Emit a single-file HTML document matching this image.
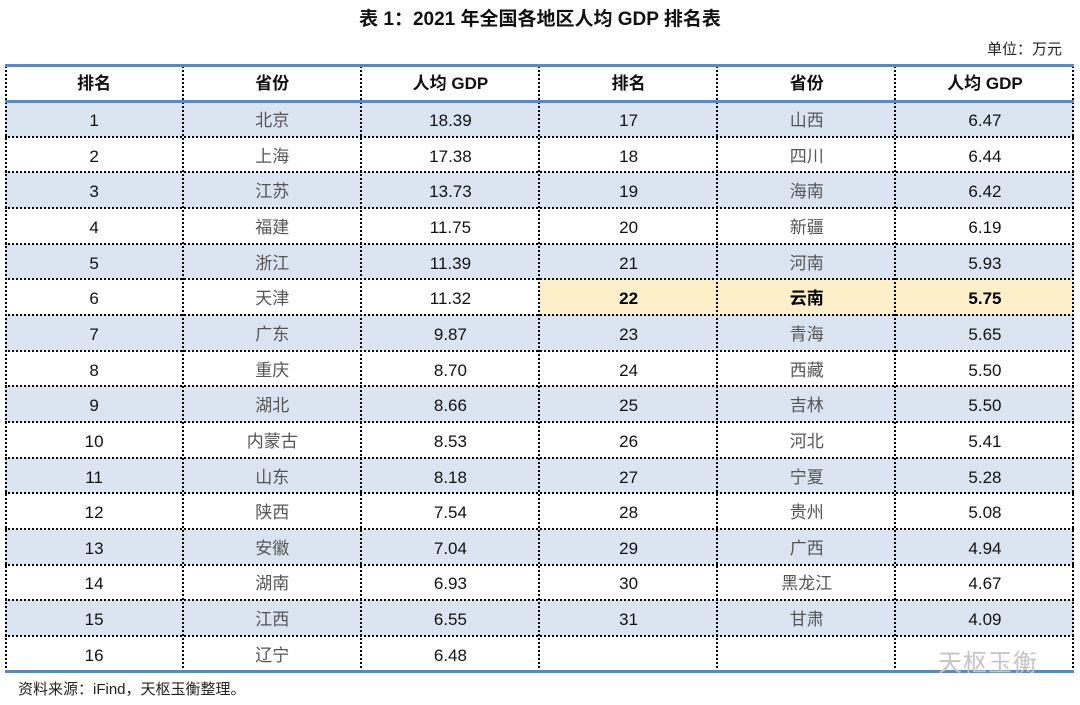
<!DOCTYPE html>
<html><head><meta charset="utf-8"><style>
body{margin:0;width:1080px;height:705px;background:#fff;position:relative;font-family:"Liberation Sans","Noto Sans CJK SC",sans-serif;overflow:hidden}
.title{position:absolute;top:4px;left:0;width:1080px;text-align:center;font-size:19px;font-weight:bold;color:#111}
.unit{position:absolute;top:38px;right:18px;font-size:15px;color:#222}
.r{position:absolute;left:5px;width:1069px;height:35.65px;display:flex}
.r div{width:178.2px;text-align:center;line-height:39px;font-size:17px;color:#111;height:35.65px;overflow:hidden}
.a{background:#dbe5f1}
.p{color:#555 !important}
.y{background:#fdefc8;font-weight:bold;color:#000 !important}
.h div{font-weight:bold;line-height:38px}
.hl{position:absolute;left:5px;width:1069px;border-top:2px dotted #000;height:0}
.bl{position:absolute;left:5px;width:1069px;height:3px;background:#5b87c5}
.vl{position:absolute;top:66px;height:606px;width:0;border-left:2px dotted #000}
.src{position:absolute;left:18px;top:678px;font-size:15px;color:#222}
.wm{position:absolute;left:938px;top:643px;font-size:24px;color:#c4c4c4;letter-spacing:1px}
</style></head><body>
<div class="title">表 1：2021 年全国各地区人均 GDP 排名表</div>
<div class="unit">单位：万元</div>
<div class="r h" style="top:65px"><div>排名</div><div>省份</div><div>人均 GDP</div><div>排名</div><div>省份</div><div>人均 GDP</div></div>
<div class="r a" style="top:101px"><div>1</div><div class="p">北京</div><div>18.39</div><div>17</div><div class="p">山西</div><div>6.47</div></div>
<div class="r" style="top:136.65px"><div>2</div><div class="p">上海</div><div>17.38</div><div>18</div><div class="p">四川</div><div>6.44</div></div>
<div class="r a" style="top:172.3px"><div>3</div><div class="p">江苏</div><div>13.73</div><div>19</div><div class="p">海南</div><div>6.42</div></div>
<div class="r" style="top:207.95px"><div>4</div><div class="p">福建</div><div>11.75</div><div>20</div><div class="p">新疆</div><div>6.19</div></div>
<div class="r a" style="top:243.6px"><div>5</div><div class="p">浙江</div><div>11.39</div><div>21</div><div class="p">河南</div><div>5.93</div></div>
<div class="r" style="top:279.25px"><div>6</div><div class="p">天津</div><div>11.32</div><div class="y">22</div><div class="y">云南</div><div class="y">5.75</div></div>
<div class="r a" style="top:314.9px"><div>7</div><div class="p">广东</div><div>9.87</div><div>23</div><div class="p">青海</div><div>5.65</div></div>
<div class="r" style="top:350.55px"><div>8</div><div class="p">重庆</div><div>8.70</div><div>24</div><div class="p">西藏</div><div>5.50</div></div>
<div class="r a" style="top:386.2px"><div>9</div><div class="p">湖北</div><div>8.66</div><div>25</div><div class="p">吉林</div><div>5.50</div></div>
<div class="r" style="top:421.85px"><div>10</div><div class="p">内蒙古</div><div>8.53</div><div>26</div><div class="p">河北</div><div>5.41</div></div>
<div class="r a" style="top:457.5px"><div>11</div><div class="p">山东</div><div>8.18</div><div>27</div><div class="p">宁夏</div><div>5.28</div></div>
<div class="r" style="top:493.15px"><div>12</div><div class="p">陕西</div><div>7.54</div><div>28</div><div class="p">贵州</div><div>5.08</div></div>
<div class="r a" style="top:528.8px"><div>13</div><div class="p">安徽</div><div>7.04</div><div>29</div><div class="p">广西</div><div>4.94</div></div>
<div class="r" style="top:564.45px"><div>14</div><div class="p">湖南</div><div>6.93</div><div>30</div><div class="p">黑龙江</div><div>4.67</div></div>
<div class="r a" style="top:600.1px"><div>15</div><div class="p">江西</div><div>6.55</div><div>31</div><div class="p">甘肃</div><div>4.09</div></div>
<div class="r" style="top:635.75px"><div>16</div><div class="p">辽宁</div><div>6.48</div><div></div><div></div><div></div></div>
<div class="hl" style="top:135.8px"></div><div class="hl" style="top:171.4px"></div><div class="hl" style="top:207px"></div><div class="hl" style="top:242.7px"></div><div class="hl" style="top:278.4px"></div><div class="hl" style="top:314px"></div><div class="hl" style="top:349.7px"></div><div class="hl" style="top:385.3px"></div><div class="hl" style="top:421px"></div><div class="hl" style="top:456.6px"></div><div class="hl" style="top:492.3px"></div><div class="hl" style="top:527.9px"></div><div class="hl" style="top:563.6px"></div><div class="hl" style="top:599.2px"></div><div class="hl" style="top:634.9px"></div>
<div class="vl" style="left:5px"></div><div class="vl" style="left:182px"></div><div class="vl" style="left:360px"></div><div class="vl" style="left:538px"></div><div class="vl" style="left:716px"></div><div class="vl" style="left:894px"></div><div class="vl" style="left:1072px"></div>
<div class="bl" style="top:64px"></div><div class="bl" style="top:99.5px"></div><div class="bl" style="top:670px"></div>
<div class="wm">天枢玉衡</div>
<div class="src">资料来源：iFind，天枢玉衡整理。</div>
</body></html>
